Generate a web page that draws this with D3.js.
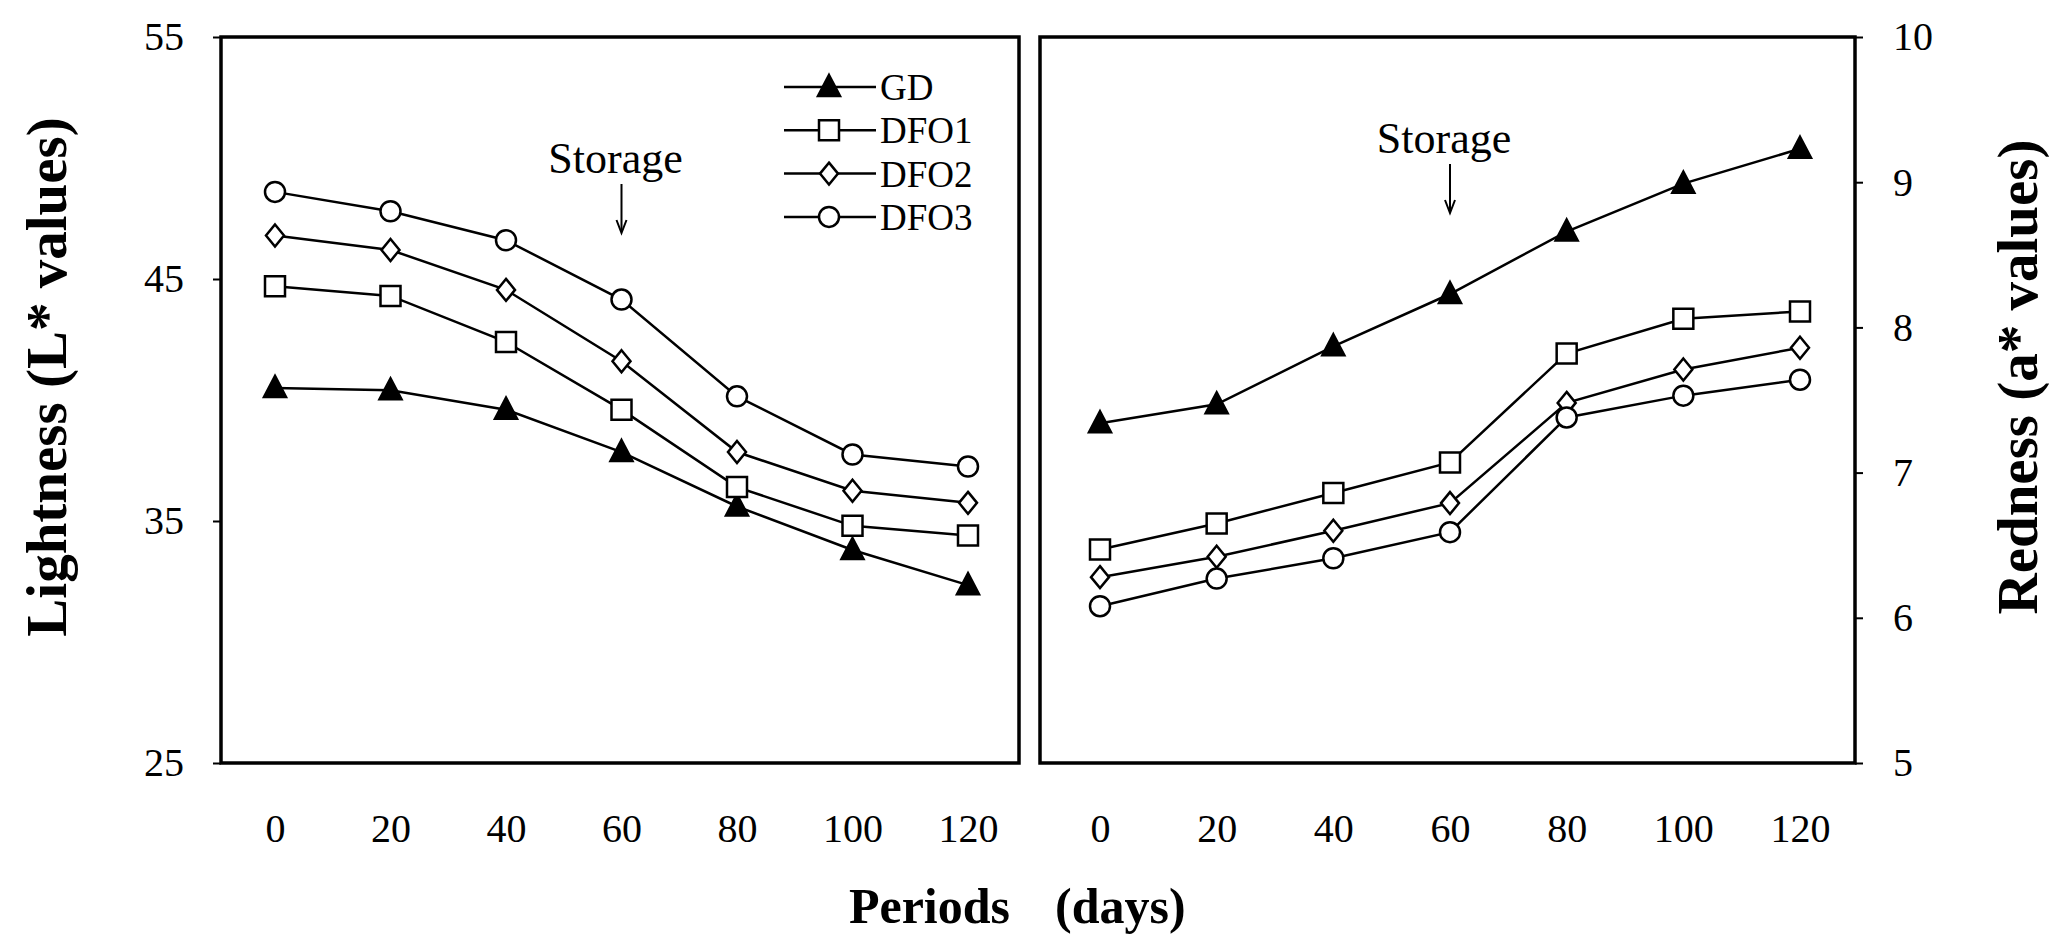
<!DOCTYPE html>
<html>
<head>
<meta charset="utf-8">
<script src="https://cdn.jsdelivr.net/npm/d3@7"></script>
<style>
  body { margin: 0; background: #fff; }
  svg text { font-family: "Liberation Serif", "Times New Roman", serif; fill: #000; }
</style>
</head>
<body>
<div id="chart"></div>
<script>
// ---- data ----
const days = [0, 20, 40, 60, 80, 100, 120];
const seriesNames = ["GD", "DFO1", "DFO2", "DFO3"];
const markerTypes = ["triangle", "square", "diamond", "circle"];

// Lightness (L*)
const lightGD   = [40.5, 40.4, 39.6, 37.85, 35.6, 33.8, 32.35];
const lightDFO1 = [44.7, 44.3, 42.4, 39.6, 36.4, 34.8, 34.4];
const lightDFO2 = [46.8, 46.2, 44.55, 41.6, 37.85, 36.25, 35.75];
const lightDFO3 = [48.6, 47.8, 46.6, 44.15, 40.15, 37.75, 37.25];

// Redness (a*)
const redGD   = [7.34, 7.47, 7.87, 8.23, 8.66, 8.99, 9.23];
const redDFO1 = [6.47, 6.65, 6.86, 7.07, 7.82, 8.06, 8.11];
const redDFO2 = [6.28, 6.42, 6.60, 6.79, 7.48, 7.71, 7.86];
const redDFO3 = [6.08, 6.27, 6.41, 6.59, 7.38, 7.53, 7.64];

const lightTicks = [25, 35, 45, 55];
const redTicks = [5, 6, 7, 8, 9, 10];
const storageDay = 60;

// ---- layout ----
const W = 2049, H = 940;
const plotTop = 37, plotBottom = 763;

const svg = d3.select("#chart").append("svg")
    .attr("width", W)
    .attr("height", H);

// marker shapes centred on 0,0
function markerPath(type) {
    if (type === "triangle") return "M0,-12L11,9L-11,9Z";
    if (type === "square") return "M-10,-10H10V10H-10Z";
    if (type === "diamond") return "M0,-11L9,0L0,11L-9,0Z";
    return "M-10,0A10,10 0 1,0 10,0A10,10 0 1,0 -10,0Z";
}

function drawPanel(opts) {
    let x = d3.scaleLinear().domain([0, 120]).range(opts.xRange);
    let y = d3.scaleLinear().domain(opts.yDomain).range([plotBottom, plotTop]);

    let g = svg.append("g");

    // frame
    g.append("rect")
        .attr("x", opts.left)
        .attr("y", plotTop)
        .attr("width", opts.right - opts.left)
        .attr("height", plotBottom - plotTop)
        .attr("fill", "none")
        .attr("stroke", "#000")
        .attr("stroke-width", 3.5);

    // y axis
    let yAxis = opts.side === "left"
        ? d3.axisLeft(y).tickValues(opts.ticks).tickSize(8).tickPadding(29)
        : d3.axisRight(y).tickValues(opts.ticks).tickSize(8).tickPadding(30);
    yAxis.tickFormat(d3.format("d"));

    let ya = g.append("g")
        .attr("transform", "translate(" + (opts.side === "left" ? opts.left : opts.right) + ",0)")
        .call(yAxis);
    ya.select(".domain").remove();
    ya.selectAll("line").attr("stroke", "#000").attr("stroke-width", 2);
    ya.selectAll("text")
        .attr("font-family", "Liberation Serif")
        .attr("font-size", 40)
        .attr("fill", "#000");

    // x axis (labels only)
    let xa = g.append("g")
        .attr("transform", "translate(0," + plotBottom + ")")
        .call(d3.axisBottom(x).tickValues(days).tickSize(0).tickPadding(51));
    xa.select(".domain").remove();
    xa.selectAll("text")
        .attr("font-family", "Liberation Serif")
        .attr("font-size", 40)
        .attr("fill", "#000");

    let line = d3.line()
        .x((d, i) => x(days[i]))
        .y(d => y(d));

    opts.series.forEach((vals, k) => {
        g.append("path")
            .datum(vals)
            .attr("d", line)
            .attr("fill", "none")
            .attr("stroke", "#000")
            .attr("stroke-width", 2.5);

        g.selectAll(".m" + k)
            .data(vals)
            .enter()
            .append("path")
            .attr("class", "m" + k)
            .attr("transform", (d, i) => "translate(" + x(days[i]) + "," + y(d) + ")")
            .attr("d", markerPath(markerTypes[k]))
            .attr("fill", markerTypes[k] === "triangle" ? "#000" : "#fff")
            .attr("stroke", "#000")
            .attr("stroke-width", 2.5);
    });

    // storage annotation
    let sx = x(storageDay);
    g.append("text")
        .attr("x", sx - 6)
        .attr("y", opts.storageY)
        .attr("text-anchor", "middle")
        .attr("font-size", 44)
        .text("Storage");
    g.append("line")
        .attr("x1", sx).attr("x2", sx)
        .attr("y1", opts.storageY + 11).attr("y2", opts.storageY + 59)
        .attr("stroke", "#000").attr("stroke-width", 2);
    g.append("path")
        .attr("d", "M" + (sx - 5) + "," + (opts.storageY + 47) + "L" + sx + "," + (opts.storageY + 60) + "L" + (sx + 5) + "," + (opts.storageY + 47))
        .attr("fill", "none")
        .attr("stroke", "#000")
        .attr("stroke-width", 2);

    return g;
}

drawPanel({
    left: 221, right: 1019, xRange: [275, 968],
    yDomain: [25, 55], ticks: lightTicks, side: "left",
    series: [lightGD, lightDFO1, lightDFO2, lightDFO3],
    storageY: 173
});

drawPanel({
    left: 1040, right: 1855, xRange: [1100, 1800],
    yDomain: [5, 10], ticks: redTicks, side: "right",
    series: [redGD, redDFO1, redDFO2, redDFO3],
    storageY: 153
});

// legend inside left panel
let legend = svg.append("g").attr("transform", "translate(784,87)");
seriesNames.forEach((name, k) => {
    let row = legend.append("g").attr("transform", "translate(0," + (k * 43.3) + ")");
    row.append("line")
        .attr("x1", 0).attr("x2", 92)
        .attr("stroke", "#000").attr("stroke-width", 2.5);
    row.append("path")
        .attr("transform", "translate(45,0)")
        .attr("d", markerPath(markerTypes[k]))
        .attr("fill", markerTypes[k] === "triangle" ? "#000" : "#fff")
        .attr("stroke", "#000")
        .attr("stroke-width", 2.5);
    row.append("text")
        .attr("x", 96)
        .attr("dy", "0.35em")
        .attr("font-size", 37)
        .text(name);
});

// axis titles
svg.append("text")
    .attr("transform", "translate(46,377) rotate(-90)")
    .attr("text-anchor", "middle")
    .attr("dominant-baseline", "central")
    .attr("font-size", 57)
    .attr("font-weight", "bold")
    .text("Lightness (L* values)");

svg.append("text")
    .attr("transform", "translate(2017,377) rotate(-90)")
    .attr("text-anchor", "middle")
    .attr("dominant-baseline", "central")
    .attr("font-size", 57)
    .attr("font-weight", "bold")
    .text("Redness (a* values)");

svg.append("text")
    .attr("x", 1010)
    .attr("y", 923)
    .attr("text-anchor", "end")
    .attr("font-size", 50)
    .attr("font-weight", "bold")
    .text("Periods");

svg.append("text")
    .attr("x", 1055)
    .attr("y", 923)
    .attr("font-size", 50)
    .attr("font-weight", "bold")
    .text("(days)");
</script>
</body>
</html>
